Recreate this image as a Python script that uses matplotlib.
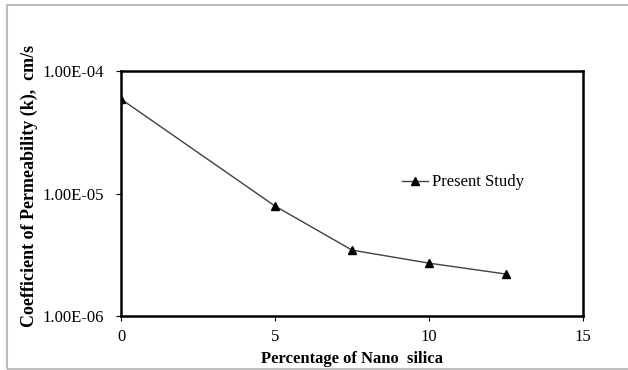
import matplotlib
matplotlib.use("Agg")
import matplotlib.pyplot as plt
from matplotlib.patches import Rectangle

# Permeability vs nano silica content
nano_silica = [0, 5, 7.5, 10, 12.5]
permeability = [5.9e-5, 7.9e-6, 3.45e-6, 2.7e-6, 2.2e-6]

plt.rcParams["font.family"] = ["Liberation Serif", "DejaVu Serif"]

fig = plt.figure(figsize=(6.28, 3.70), dpi=100)
fig.patches.append(Rectangle((7 / 628, 1 - 369 / 370), 1, 364 / 370,
                             transform=fig.transFigure, fill=False,
                             edgecolor="#bdbdbd", linewidth=1.5))

ax = fig.add_axes([121 / 628, 1 - 316 / 370, 462 / 628, 245 / 370])
ax.plot(nano_silica, permeability, color="#404040", linewidth=1,
        marker="^", markersize=6, markerfacecolor="black",
        markeredgecolor="black", label="Present Study")

ax.set_yscale("log")
ax.set_ylim(1e-6, 1e-4)
ax.set_xlim(0, 15)
ax.set_xticks([0, 5, 10, 15])
ax.set_yticks([1e-6, 1e-5, 1e-4])
ax.set_yticklabels(["1.00E-06", "1.00E-05", "1.00E-04"])
ax.minorticks_off()

for s in ax.spines.values():
    s.set_linewidth(1.8)
ax.tick_params(direction="out", length=3.5, width=0.8, labelsize=12, pad=6)
ax.tick_params(axis="y", pad=9)

ax.set_xlabel("Percentage of Nano  silica", fontsize=12, fontweight="bold", labelpad=4)
ax.set_ylabel("Coefficient of Permeability (k),  cm/s", fontsize=13,
              fontweight="bold")
ax.yaxis.set_label_coords(-0.18, 0.53)

ax.legend(loc="center left", bbox_to_anchor=(0.575, 0.545), frameon=False,
          fontsize=12, handlelength=1.6, handletextpad=0.2)

fig.savefig("out.png", dpi=100)
